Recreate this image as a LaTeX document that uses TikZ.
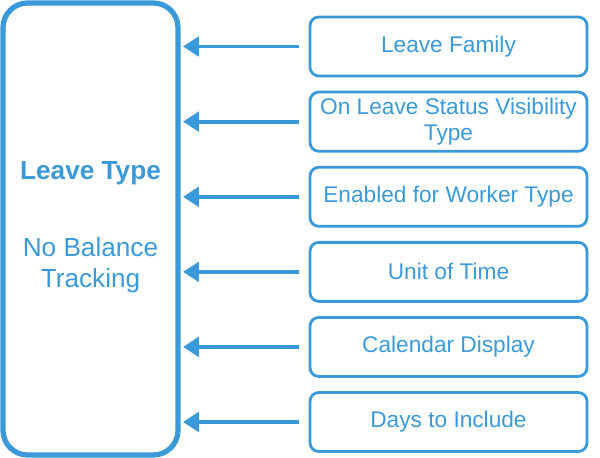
\documentclass[tikz,border=0pt]{standalone}
\usepackage{fontspec}
\setmainfont{Liberation Sans}
\usetikzlibrary{positioning,arrows.meta}
\definecolor{lblue}{HTML}{3A9AD9}
\tikzset{
  attr/.style={draw=lblue, line width=1.6pt, rounded corners=5pt, minimum width=5.54cm,
    minimum height=1.18cm, align=center, text=lblue, font=\fontsize{12.9}{15}\selectfont},
  feed/.style={draw=lblue, line width=2.2pt, -{Triangle[length=9pt,width=11pt]}}
}
\begin{document}
\begin{tikzpicture}
  \useasboundingbox (0,0) rectangle (12,9.16);
  % main box
  \draw[lblue, line width=3pt, rounded corners=14pt] (0.06,0.06) rectangle (3.56,9.1);
  \coordinate (main) at (3.66,0);
  \node[text=lblue, font=\fontsize{14.9}{17}\selectfont\bfseries] (title) at (1.81,5.7) {Leave Type};
  \node[text=lblue, align=center, font=\fontsize{14.9}{17.5}\selectfont] (sub) at (1.81,3.86) {No Balance\\Tracking};
  % attribute boxes
  \node[attr] (fam) at (8.97,8.23) {Leave Family};
  \node[attr, below=0.265cm of fam] (vis) {On Leave Status Visibility\\Type};
  \node[attr, below=0.265cm of vis] (wrk) {Enabled for Worker Type};
  \node[attr, below=0.265cm of wrk] (unit) {Unit of Time};
  \node[attr, below=0.265cm of unit] (cal) {Calendar Display};
  \node[attr, below=0.265cm of cal] (days) {Days to Include};
  \foreach \n in {fam,vis,wrk,unit,cal,days}
    \draw[feed] ([xshift=-0.2cm]\n.west) -- (main |- \n.west);
\end{tikzpicture}
\end{document}
